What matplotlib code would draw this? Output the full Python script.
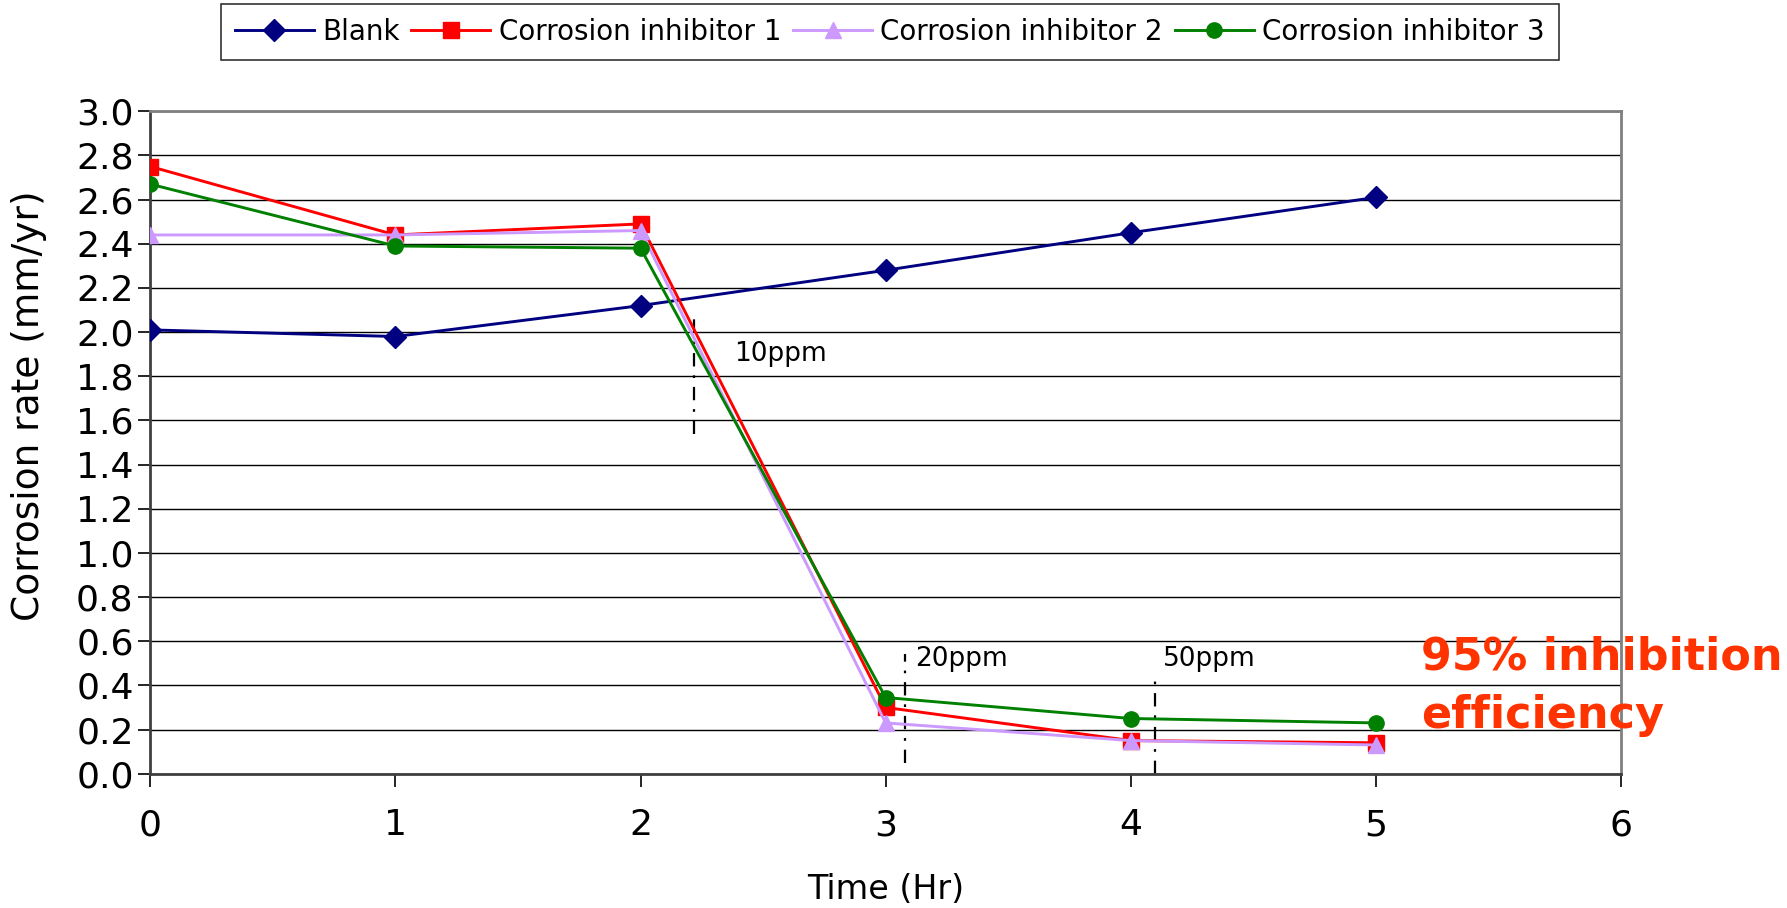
import matplotlib
matplotlib.use("Agg")
import matplotlib.pyplot as plt

hours = [0, 1, 2, 3, 4, 5]
blank = [2.01, 1.98, 2.12, 2.28, 2.45, 2.61]
ci1 = [2.75, 2.44, 2.49, 0.30, 0.15, 0.14]
ci2 = [2.44, 2.44, 2.46, 0.23, 0.15, 0.13]
ci3 = [2.67, 2.39, 2.38, 0.345, 0.25, 0.23]
labels = ["Blank", "Corrosion inhibitor 1", "Corrosion inhibitor 2", "Corrosion inhibitor 3"]
dose_labels = ["10ppm", "20ppm", "50ppm"]
dose_x = [2.22, 3.08, 4.10]
dose_ylo = [1.54, 0.05, 0.0]
dose_yhi = [2.08, 0.54, 0.45]
dose_tx = [2.38, 3.12, 4.13]
dose_ty = [1.90, 0.52, 0.52]

plt.rcParams['font.family'] = ['DejaVu Sans']
W, H = 1787, 908
fig = plt.figure(figsize=(W/100, H/100), dpi=100)
ax = fig.add_axes([150.3/W, 1-773.7/H, (1621-150.3)/W, (773.7-111.3)/H])

ax.plot(hours, blank, color='#000080', marker='D', markersize=11, lw=2.1, label=labels[0], zorder=3)
ax.plot(hours, ci1, color='#FF0000', marker='s', markersize=11, lw=2.1, label=labels[1], zorder=3)
ax.plot(hours, ci2, color='#CC99FF', marker='^', markersize=12, lw=2.1, label=labels[2], zorder=3)
ax.plot(hours, ci3, color='#008000', marker='o', markersize=11, lw=2.1, label=labels[3], zorder=3)

for x, lo, hi, tx, ty, t in zip(dose_x, dose_ylo, dose_yhi, dose_tx, dose_ty, dose_labels):
    ax.plot([x, x], [lo, hi], color='black', lw=1.6, linestyle=(0, (6, 4, 1.2, 4)), zorder=2)
    ax.text(tx, ty, t, fontsize=19, va='center', ha='left')

ax.set_xlim(0, 6)
ax.set_ylim(0, 3.0)
ax.set_xticks(range(0, 7))
ax.set_yticks([i/5 for i in range(16)])
ax.set_yticklabels([f"{i/5:.1f}" for i in range(16)])
ax.yaxis.grid(True, color='black', lw=1)
ax.set_axisbelow(True)
ax.tick_params(axis='both', direction='out', length=9, width=1.2, labelsize=26, colors='black')
ax.tick_params(axis='y', pad=3)
ax.tick_params(axis='x', pad=16)
for s in ['top', 'right']:
    ax.spines[s].set_color('#808080')
    ax.spines[s].set_linewidth(2)
for s in ['left', 'bottom']:
    ax.spines[s].set_color('#404040')
    ax.spines[s].set_linewidth(2)

ax.set_xlabel("Time (Hr)", fontsize=24, labelpad=22)
ax.set_ylabel("Corrosion rate (mm/yr)", fontsize=27)
ax.yaxis.set_label_coords(-0.0705, 0.555)

fig.text(1421/W, 1-670/H, "95% inhibition", color='#FF3300', fontsize=32, fontweight='bold', va='baseline', ha='left')
fig.text(1421/W, 1-728/H, "efficiency", color='#FF3300', fontsize=32, fontweight='bold', va='baseline', ha='left')

leg = fig.legend(loc='upper left', bbox_to_anchor=(220.7/W, 1-4/H), ncol=4, fontsize=20,
                 frameon=True, fancybox=False, edgecolor='black', handlelength=2.85,
                 handletextpad=0.3, columnspacing=0.42, borderpad=0.5, borderaxespad=0)
leg.get_frame().set_linewidth(1.2)

fig.savefig("out.png", dpi=100)
